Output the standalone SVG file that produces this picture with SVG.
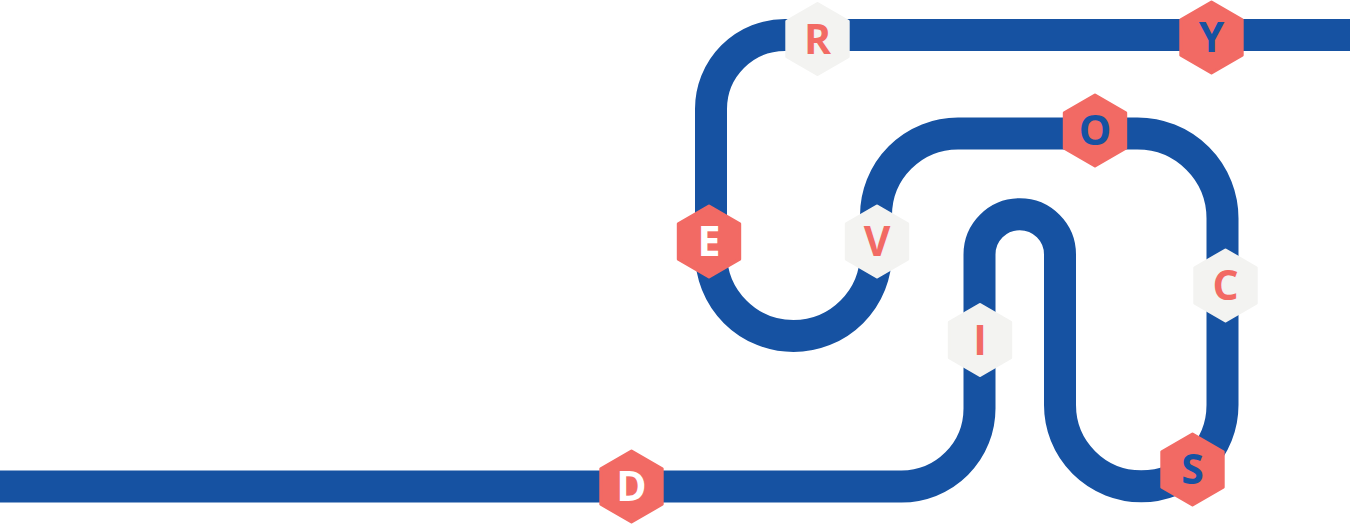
<svg xmlns="http://www.w3.org/2000/svg" xmlns:xlink="http://www.w3.org/1999/xlink" width="1350" height="525" viewBox="0 0 1350 525">
  <style>
    .track { fill: none; stroke: #1652A2; stroke-width: 32; }
    .hex-red { fill: #F26A64; stroke: #F26A64; stroke-width: 3; stroke-linejoin: round; }
    .hex-grey { fill: #F3F3F1; stroke: #F3F3F1; stroke-width: 3; stroke-linejoin: round; }
    .lbl { font-family: "Open Sans", "Liberation Sans", sans-serif; font-weight: 700; font-size: 41px; text-anchor: middle; }
    .t-white { fill: #FFFFFF; }
    .t-blue { fill: #1652A2; }
    .t-coral { fill: #F26A64; }
  </style>
  <defs>
    <polygon id="hex" points="0,-35.5 30.7,-17.75 30.7,17.75 0,35.5 -30.7,17.75 -30.7,-17.75"/>
  </defs>
  <rect width="1350" height="525" fill="#FFFFFF"/>
  <g id="connectors">
    <path class="track" d="M 0 486.5 H 901.5 A 78 78 0 0 0 979.5 408.5 V 254.5 A 40.25 40.25 0 0 1 1060 254.5 V 405 A 81.25 81.25 0 0 0 1222.5 405 V 218.5 A 85 85 0 0 0 1137.5 133.5 H 958 A 82 82 0 0 0 876 215.5 V 253.5 A 82.5 82.5 0 0 1 711 253.5 V 109 A 74 74 0 0 1 785 35 H 1350"/>
  </g>
  <g id="node-D">
    <use xlink:href="#hex" class="hex-red" x="631.5" y="486.5"/>
    <text class="lbl t-white" x="631.5" y="501">D</text>
  </g>
  <g id="node-I">
    <use xlink:href="#hex" class="hex-grey" x="980" y="340"/>
    <text class="lbl t-coral" x="980" y="354.5">I</text>
  </g>
  <g id="node-S">
    <use xlink:href="#hex" class="hex-red" x="1192.5" y="469.5"/>
    <text class="lbl t-blue" x="1192.5" y="484">S</text>
  </g>
  <g id="node-C">
    <use xlink:href="#hex" class="hex-grey" x="1225.5" y="285.5"/>
    <text class="lbl t-coral" x="1225.5" y="300">C</text>
  </g>
  <g id="node-O">
    <use xlink:href="#hex" class="hex-red" x="1095" y="130.5"/>
    <text class="lbl t-blue" x="1095" y="145">O</text>
  </g>
  <g id="node-V">
    <use xlink:href="#hex" class="hex-grey" x="877" y="241.5"/>
    <text class="lbl t-coral" x="877" y="256">V</text>
  </g>
  <g id="node-E">
    <use xlink:href="#hex" class="hex-red" x="709" y="241.5"/>
    <text class="lbl t-white" x="709" y="256">E</text>
  </g>
  <g id="node-R">
    <use xlink:href="#hex" class="hex-grey" x="817.5" y="39"/>
    <text class="lbl t-coral" x="817.5" y="53.5">R</text>
  </g>
  <g id="node-Y">
    <use xlink:href="#hex" class="hex-red" x="1211.5" y="37.5"/>
    <text class="lbl t-blue" x="1211.5" y="52">Y</text>
  </g>
</svg>
